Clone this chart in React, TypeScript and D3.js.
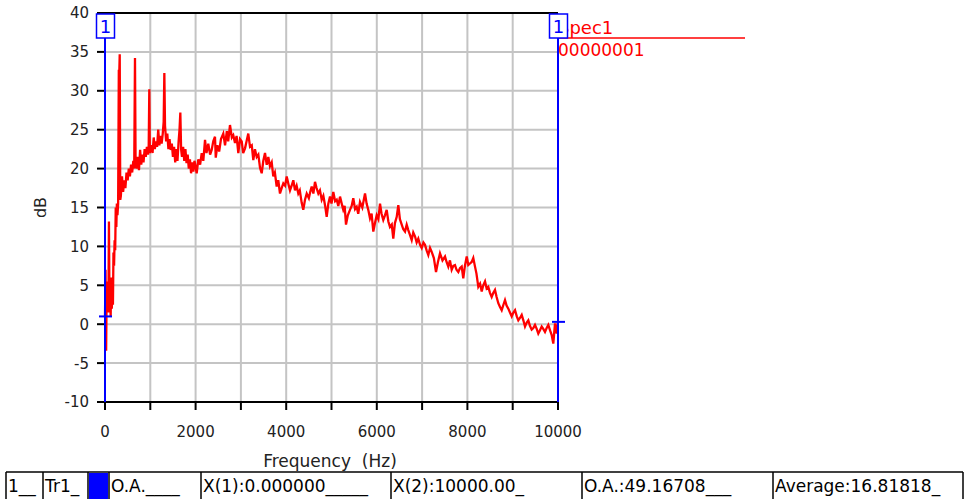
import React from 'react';
import * as d3 from 'd3';

// spectrum: [frequency Hz, level dB]
const spectrum: [number, number][] = [
  [0, 1.0], [12, 7.0], [25, -3.4], [37, 4.5], [50, 1.5], [62, 5.5], [75, 2.0], [87, 13.2], [100, 1.5], [112, 5.5],
  [125, 1.0], [137, 6.0], [150, 2.0], [162, 5.0], [175, 2.5], [187, 9.2], [200, 7.5], [212, 10.8], [225, 9.5], [237, 15.0],
  [250, 12.5], [262, 15.5], [275, 14.0], [290, 15.5], [305, 32.7], [312, 31.5], [325, 34.7], [337, 16.0], [350, 16.5], [375, 19.0],
  [400, 17.0], [425, 18.5], [450, 17.5], [475, 19.5], [500, 18.5], [525, 20.0], [550, 19.0], [575, 20.5], [600, 19.5], [625, 21.0],
  [645, 20.0], [662, 34.2], [675, 21.0], [700, 20.0], [725, 21.5], [750, 19.8], [775, 22.4], [800, 20.5], [825, 21.8], [850, 20.8],
  [875, 22.5], [900, 21.5], [925, 22.8], [950, 21.8], [965, 23.0], [978, 30.2], [990, 22.0], [1000, 22.5], [1025, 23.0], [1050, 22.0],
  [1075, 24.0], [1100, 22.5], [1125, 23.5], [1150, 22.8], [1175, 25.0], [1200, 23.0], [1225, 24.2], [1250, 23.2], [1275, 24.5], [1295, 26.0],
  [1310, 32.3], [1325, 25.5], [1350, 23.5], [1375, 24.5], [1400, 22.5], [1425, 23.8], [1450, 22.4], [1475, 23.2], [1500, 21.5], [1525, 22.8],
  [1550, 20.8], [1575, 22.5], [1600, 21.0], [1625, 23.5], [1645, 25.0], [1663, 27.2], [1680, 22.5], [1700, 21.5], [1725, 22.8], [1750, 21.0],
  [1775, 22.5], [1800, 20.7], [1825, 21.8], [1850, 20.0], [1875, 21.2], [1900, 19.4], [1925, 20.8], [1950, 19.6], [1975, 21.0], [2000, 20.2],
  [2024, 19.4], [2060, 21.2], [2100, 20.5], [2135, 22.0], [2170, 21.0], [2208, 23.7], [2240, 22.0], [2280, 23.2], [2320, 21.8], [2355, 22.4],
  [2390, 23.5], [2428, 24.1], [2445, 21.4], [2480, 23.0], [2520, 22.2], [2560, 23.8], [2611, 24.5], [2650, 23.0], [2690, 24.8], [2720, 23.5],
  [2759, 25.6], [2800, 24.0], [2832, 24.3], [2870, 23.3], [2905, 24.2], [2943, 22.0], [2980, 23.8], [3018, 23.5], [3050, 22.0], [3091, 22.6],
  [3125, 23.5], [3163, 24.5], [3201, 22.8], [3240, 23.0], [3274, 21.1], [3310, 22.5], [3349, 21.5], [3385, 21.8], [3422, 20.1], [3459, 19.4],
  [3495, 21.0], [3532, 22.0], [3570, 20.5], [3605, 21.5], [3642, 20.3], [3680, 20.8], [3715, 19.0], [3750, 19.5], [3790, 17.7], [3825, 18.5],
  [3863, 16.8], [3900, 17.5], [3936, 18.1], [3975, 17.8], [4011, 19.0], [4050, 18.0], [4084, 17.2], [4120, 17.8], [4157, 18.5], [4194, 17.2],
  [4230, 17.8], [4267, 16.8], [4300, 17.2], [4342, 15.6], [4377, 14.7], [4415, 16.0], [4453, 16.8], [4500, 16.2], [4530, 17.0], [4563, 17.7],
  [4600, 16.8], [4636, 18.3], [4670, 17.5], [4709, 16.8], [4745, 17.2], [4784, 16.0], [4820, 16.5], [4860, 15.2], [4894, 13.8], [4930, 15.5],
  [4967, 16.4], [5000, 15.5], [5040, 17.0], [5080, 15.8], [5115, 16.0], [5150, 15.2], [5188, 16.4], [5225, 15.5], [5260, 14.7], [5290, 15.2],
  [5320, 12.8], [5360, 14.0], [5408, 14.7], [5445, 15.2], [5481, 16.2], [5520, 14.8], [5556, 15.1], [5590, 14.2], [5629, 15.7], [5680, 15.0],
  [5740, 16.8], [5775, 15.5], [5812, 14.7], [5850, 13.6], [5885, 14.2], [5923, 11.9], [5960, 13.0], [5998, 14.0], [6035, 13.5], [6071, 15.5],
  [6105, 14.2], [6143, 13.4], [6180, 14.0], [6218, 14.7], [6255, 13.2], [6291, 12.5], [6330, 12.8], [6364, 11.0], [6400, 13.0], [6440, 13.8],
  [6475, 15.3], [6510, 13.5], [6550, 12.8], [6585, 12.2], [6623, 11.9], [6660, 12.8], [6695, 12.1], [6730, 11.5], [6770, 10.8], [6805, 11.8],
  [6843, 11.3], [6880, 10.5], [6916, 11.0], [6955, 10.2], [6991, 9.8], [7030, 10.5], [7064, 10.2], [7100, 9.5], [7137, 8.9], [7175, 9.8],
  [7212, 9.3], [7260, 8.5], [7307, 6.7], [7350, 8.0], [7395, 9.1], [7450, 8.2], [7506, 8.7], [7540, 8.0], [7578, 7.4], [7615, 8.2],
  [7653, 7.0], [7690, 7.5], [7726, 7.6], [7760, 7.0], [7799, 6.7], [7835, 7.2], [7874, 7.4], [7909, 5.9], [7945, 7.5], [7985, 8.7],
  [8020, 7.6], [8057, 7.8], [8095, 8.0], [8130, 8.5], [8168, 7.4], [8200, 6.5], [8241, 4.8], [8280, 5.2], [8316, 4.2], [8350, 5.0],
  [8389, 5.5], [8425, 4.6], [8461, 4.8], [8500, 4.0], [8536, 3.5], [8570, 4.0], [8609, 4.4], [8645, 3.5], [8682, 2.7], [8720, 2.2],
  [8757, 1.8], [8795, 2.5], [8830, 3.1], [8865, 2.4], [8903, 2.0], [8940, 1.5], [8978, 1.0], [9015, 1.5], [9051, 1.8], [9090, 1.0],
  [9124, 0.5], [9160, 0.8], [9199, 1.2], [9235, 0.5], [9272, -0.3], [9310, 0.2], [9345, 0.5], [9380, -0.2], [9419, -0.7], [9455, -0.5],
  [9492, -0.1], [9530, -0.6], [9565, -1.2], [9600, -0.8], [9640, -0.3], [9675, -0.6], [9713, -1.0], [9750, -0.5], [9786, -0.1], [9825, -0.8],
  [9861, -1.4], [9896, -2.5], [9934, 0.1], [9971, -1.2], [10000, 0.3],
];

const yTicks = [-10, -5, 0, 5, 10, 15, 20, 25, 30, 35, 40];
const xGrid = [0, 1000, 2000, 3000, 4000, 5000, 6000, 7000, 8000, 9000, 10000];
const xLabels = [0, 2000, 4000, 6000, 8000, 10000];

// cursors: frequency and the level shown at that frequency
const cursors = [
  { id: '1', freq: 0, level: 1.0 },
  { id: '1', freq: 10000, level: 0.3 },
];

const legendName = 'Spec1';
const legendSub = '00000001';

// status bar cells
const statusCells = [
  { x0: 6, x1: 43, text: '1__' },
  { x0: 43, x1: 88, text: 'Tr1_' },
  { x0: 88, x1: 109, text: '', swatch: true },
  { x0: 109, x1: 201, text: 'O.A.____' },
  { x0: 201, x1: 391, text: 'X(1):0.000000_____' },
  { x0: 391, x1: 582, text: 'X(2):10000.00_' },
  { x0: 582, x1: 773, text: 'O.A.:49.16708___' },
  { x0: 773, x1: 963, text: 'Average:16.81818_' },
];

const W = 966;
const H = 499;
const margin = { top: 13, right: 408, bottom: 97, left: 105 };
const font = '"DejaVu Sans", sans-serif';

const App: React.FC = () => {
  const x = d3.scaleLinear().domain([0, 10000]).range([margin.left, W - margin.right]);
  const y = d3.scaleLinear().domain([-10, 40]).range([H - margin.bottom, margin.top]);

  const line = d3
    .line<[number, number]>()
    .x((d) => x(d[0]))
    .y((d) => y(d[1]));

  const x0 = x(0);
  const x1 = x(10000);
  const yTop = y(40);
  const yBot = y(-10);

  return (
    <svg
      width={W}
      height={H}
      style={{ position: 'absolute', left: 0, top: 0, background: '#fff', fontFamily: font }}
    >
      {/* grid */}
      {xGrid.map((t) => (
        <line key={'gx' + t} x1={x(t)} x2={x(t)} y1={yTop} y2={yBot} stroke="#c4c4c4" strokeWidth={2} />
      ))}
      {yTicks.map((t) => (
        <line key={'gy' + t} x1={x0} x2={x1} y1={y(t)} y2={y(t)} stroke="#c4c4c4" strokeWidth={2} />
      ))}

      {/* frame */}
      <line x1={x0} x2={x1} y1={yTop} y2={yTop} stroke="#000" strokeWidth={2} />
      <line x1={x0} x2={x1} y1={yBot} y2={yBot} stroke="#000" strokeWidth={2} />
      <line x1={x0} x2={x0} y1={yTop} y2={yBot} stroke="#000" strokeWidth={2} />

      {/* y axis */}
      {yTicks.map((t) => (
        <g key={'yt' + t}>
          <line x1={x0 - 8} x2={x0} y1={y(t)} y2={y(t)} stroke="#000" strokeWidth={2} />
          <text x={x0 - 16} y={y(t)} dy="0.36em" textAnchor="end" fontSize={15} fill="#222">
            {t}
          </text>
        </g>
      ))}
      {/* x axis */}
      {xGrid.map((t) => (
        <line key={'xt' + t} x1={x(t)} x2={x(t)} y1={yBot} y2={yBot + 8} stroke="#000" strokeWidth={2} />
      ))}
      {xLabels.map((t) => (
        <text key={'xl' + t} x={x(t)} y={437} textAnchor="middle" fontSize={15} fill="#222">
          {t}
        </text>
      ))}

      <text
        transform={`translate(46,${(yTop + yBot) / 2}) rotate(-90)`}
        textAnchor="middle"
        fontSize={16}
        fill="#222"
      >
        dB
      </text>
      <text x={330} y={467} textAnchor="middle" fontSize={17} fill="#222" style={{ whiteSpace: 'pre' }}>
        {'Frequency  (Hz)'}
      </text>

      {/* spectrum */}
      <path d={line(spectrum) || ''} fill="none" stroke="#ff0000" strokeWidth={2.3} strokeLinejoin="miter" />

      {/* legend */}
      <text x={x1} y={34} fontSize={18} fill="#ff0000">
        {legendName}
      </text>
      <line x1={x1} x2={745} y1={38} y2={38} stroke="#ff0000" strokeWidth={1.5} />
      <text x={x1} y={56} fontSize={17} fill="#ff0000">
        {legendSub}
      </text>

      {/* cursors */}
      {cursors.map((c, i) => {
        const cx = x(c.freq);
        return (
          <g key={'c' + i}>
            <line x1={cx} x2={cx} y1={38} y2={yBot} stroke="#0000ff" strokeWidth={2} />
            <line x1={cx - 6} x2={cx + 7} y1={y(c.level)} y2={y(c.level)} stroke="#0000ff" strokeWidth={2} />
            <rect x={cx - 8.5} y={14} width={18} height={24} fill="#fff" stroke="#0000ff" strokeWidth={1.5} />
            <text x={cx + 0.5} y={33} textAnchor="middle" fontSize={18} fill="#0000ff">
              {c.id}
            </text>
          </g>
        );
      })}

      {/* status bar */}
      <line x1={6} x2={963} y1={472} y2={472} stroke="#000" strokeWidth={1.5} />
      {statusCells.map((c, i) => (
        <g key={'s' + i}>
          <line x1={c.x0} x2={c.x0} y1={472} y2={H} stroke="#000" strokeWidth={1.5} />
          {c.swatch ? (
            <rect x={c.x0 + 1} y={473} width={c.x1 - c.x0 - 2} height={H - 473} fill="#0000ff" />
          ) : (
            <text x={c.x0 + 2} y={492} fontSize={17} fill="#000">
              {c.text}
            </text>
          )}
        </g>
      ))}
      <line x1={963} x2={963} y1={472} y2={H} stroke="#000" strokeWidth={1.5} />
    </svg>
  );
};

export default App;
